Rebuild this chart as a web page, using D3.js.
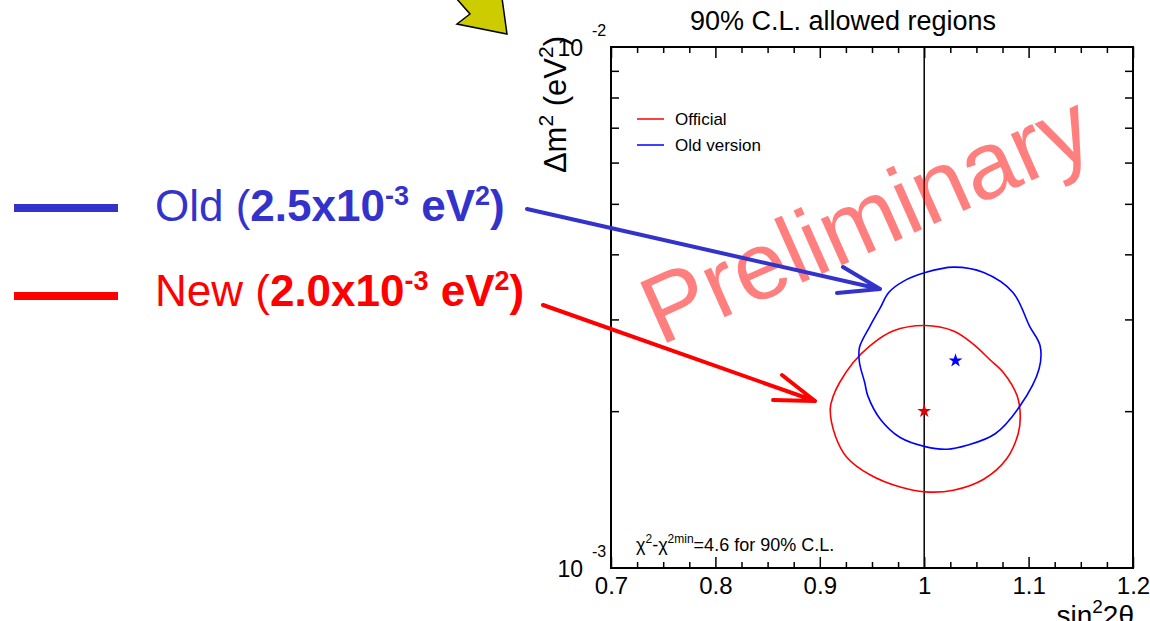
<!DOCTYPE html>
<html><head><meta charset="utf-8">
<script src="https://cdn.jsdelivr.net/npm/d3@7"></script>
<style>
body{margin:0;background:#fff}
svg{display:block;font-family:"Liberation Sans",Arial,Helvetica,sans-serif}
</style>
</head><body>
<svg id="c" width="1150" height="621"></svg>
<script>
// ---------------- data ----------------
const xTickValues = [0.7, 0.8, 0.9, 1.0, 1.1, 1.2];
const xMinorTickValues = [0.725,0.75,0.775,0.825,0.85,0.875,0.925,0.95,0.975,1.025,1.05,1.075,1.125,1.15,1.175];
const yDomain = [1e-3, 1e-2];
const yMinorTickValues = [2e-3,3e-3,4e-3,5e-3,6e-3,7e-3,8e-3,9e-3];
const yLabelExponents = ["-3", "-2"];
const referenceX = 1.0;

// 90% C.L. contours (sin^2 2theta, dm^2 in eV^2)
const officialContour = [
  [1.001,2.92e-3],[1.028,2.85e-3],[1.047,2.69e-3],[1.063,2.51e-3],[1.076,2.37e-3],
  [1.089,2.14e-3],[1.092,1.96e-3],[1.090,1.81e-3],[1.079,1.62e-3],[1.057,1.48e-3],
  [1.028,1.41e-3],[1.001,1.40e-3],[0.977,1.43e-3],[0.948,1.51e-3],[0.926,1.63e-3],
  [0.915,1.79e-3],[0.910,2.02e-3],[0.913,2.14e-3],[0.919,2.27e-3],[0.932,2.48e-3],
  [0.948,2.67e-3],[0.970,2.85e-3]
];
const oldContour = [
  [1.001,3.69e-3],[1.028,3.78e-3],[1.057,3.69e-3],[1.085,3.38e-3],[1.101,2.91e-3],
  [1.111,2.67e-3],[1.110,2.41e-3],[1.092,2.05e-3],[1.068,1.81e-3],[1.041,1.72e-3],
  [1.022,1.69e-3],[1.001,1.71e-3],[0.977,1.78e-3],[0.958,1.93e-3],[0.946,2.14e-3],
  [0.943,2.27e-3],[0.938,2.48e-3],[0.938,2.65e-3],[0.948,2.91e-3],[0.958,3.16e-3],
  [0.966,3.38e-3],[0.980,3.55e-3]
];
const bestFitPoints = [[1.0, 2.0e-3], [1.03, 2.5e-3]];
const legendLabels = ["Official", "Old version"];
const seriesColors = ["#ff0000", "#0000ff"];

// ---------------- layout ----------------
const svg = d3.select("#c");
const L = 611, R = 1133, T = 47, B = 568;
const x = d3.scaleLinear().domain([0.7, 1.2]).range([L, R]);
const y = d3.scaleLog().domain(yDomain).range([B, T]);

// title
svg.append("text").attr("x", 843).attr("y", 30).attr("text-anchor", "middle")
  .attr("font-size", 27).text("90% C.L. allowed regions");

// axes (inward ticks)
function clean(g){ g.select(".domain").remove(); g.selectAll("line").attr("stroke","#000").attr("stroke-width",1.5); }
svg.append("g").attr("transform", `translate(0,${B})`)
  .call(d3.axisBottom(x).tickValues(xTickValues).tickSizeInner(-11).tickSizeOuter(0).tickPadding(9)
    .tickFormat(d3.format("~g")))
  .call(clean)
  .call(g => g.selectAll("text").attr("font-size", 24).attr("font-family", "Liberation Sans, Arial, sans-serif").attr("fill","#000"));
svg.append("g").attr("transform", `translate(0,${B})`)
  .call(d3.axisBottom(x).tickValues(xMinorTickValues).tickSizeInner(-6).tickSizeOuter(0).tickFormat(""))
  .call(clean);
svg.append("g").attr("transform", `translate(0,${T})`)
  .call(d3.axisTop(x).tickValues(xTickValues).tickSizeInner(-11).tickSizeOuter(0).tickFormat(""))
  .call(clean);
svg.append("g").attr("transform", `translate(0,${T})`)
  .call(d3.axisTop(x).tickValues(xMinorTickValues).tickSizeInner(-6).tickSizeOuter(0).tickFormat(""))
  .call(clean);
svg.append("g").attr("transform", `translate(${L},0)`)
  .call(d3.axisLeft(y).tickValues(yMinorTickValues).tickSizeInner(-8).tickSizeOuter(0).tickFormat(""))
  .call(clean);
svg.append("g").attr("transform", `translate(${R},0)`)
  .call(d3.axisRight(y).tickValues(yMinorTickValues).tickSizeInner(-8).tickSizeOuter(0).tickFormat(""))
  .call(clean);

// y tick labels 10^-3, 10^-2
yDomain.forEach((v, i) => {
  svg.append("text").attr("x", 583).attr("y", y(v) + 9).attr("text-anchor", "end").attr("font-size", 23).text("10");
  svg.append("text").attr("x", 592).attr("y", y(v) - 11).attr("font-size", 16).text(yLabelExponents[i]);
});

// axis titles
const yt = svg.append("text").attr("transform", "translate(566,36) rotate(-90)")
  .attr("text-anchor", "end").attr("font-size", 31);
yt.append("tspan").text("\u0394m");
yt.append("tspan").attr("font-size", 21).attr("dy", -13).text("2");
yt.append("tspan").attr("dy", 13).text(" (eV");
yt.append("tspan").attr("font-size", 21).attr("dy", -13).text("2");
yt.append("tspan").attr("dy", 13).text(")");

const xt = svg.append("text").attr("x", 1134).attr("y", 625).attr("text-anchor", "end").attr("font-size", 28);
xt.append("tspan").text("sin");
xt.append("tspan").attr("font-size", 19).attr("dy", -12).text("2");
xt.append("tspan").attr("dy", 12).text("2\u03b8");

// reference vertical line
svg.append("line").attr("x1", x(referenceX)).attr("x2", x(referenceX)).attr("y1", y(yDomain[1])).attr("y2", y(yDomain[0]))
  .attr("stroke", "#000").attr("stroke-width", 1.5);

// contours
const line = d3.line().x(d => x(d[0])).y(d => y(d[1])).curve(d3.curveCatmullRomClosed.alpha(0.5));
[officialContour, oldContour].forEach((c, i) => {
  svg.append("path").attr("d", line(c)).attr("fill", "none").attr("stroke", seriesColors[i]).attr("stroke-width", 1.6);
});
// best fit stars
bestFitPoints.forEach((p, i) => {
  svg.append("path").attr("d", d3.symbol(d3.symbolStar, 60)())
    .attr("transform", `translate(${x(p[0])},${y(p[1])})`).attr("fill", i === 0 ? "#e00000" : "#0000ff");
});

// legend
legendLabels.forEach((lab, i) => {
  const ly = 119 + i * 26;
  svg.append("line").attr("x1", 637).attr("x2", 664).attr("y1", ly).attr("y2", ly)
    .attr("stroke", seriesColors[i]).attr("stroke-width", 1.5);
  svg.append("text").attr("x", 675).attr("y", ly + 6).attr("font-size", 17).text(lab);
});

// chi2 note
const ct = svg.append("text").attr("x", 636).attr("y", 551).attr("font-size", 18);
ct.append("tspan").text("\u03c7");
ct.append("tspan").attr("font-size", 12).attr("dy", -8).text("2");
ct.append("tspan").attr("dy", 8).text("-\u03c7");
ct.append("tspan").attr("font-size", 12).attr("dy", -8).text("2min");
ct.append("tspan").attr("dy", 8).text("=4.6 for 90% C.L.");

// bounding frame
svg.append("rect").attr("x", L).attr("y", T).attr("width", R - L).attr("height", B - T)
  .attr("fill", "none").attr("stroke", "#000").attr("stroke-width", 2);

// Preliminary watermark
svg.append("text").attr("transform", "translate(660,346) rotate(-24)")
  .attr("font-size", 96).attr("fill", "#ff0000").attr("fill-opacity", 0.5).text("Preliminary");

// slide annotations
function richLabel(yb, color, word, val) {
  const t = svg.append("text").attr("x", 155).attr("y", yb).attr("font-size", 44).attr("fill", color);
  t.append("tspan").text(word + " (");
  t.append("tspan").attr("font-weight", "bold").text(val);
  t.append("tspan").attr("font-weight", "bold").attr("font-size", 27).attr("dy", -16).text("-3");
  t.append("tspan").attr("font-weight", "bold").attr("dy", 16).text(" eV");
  t.append("tspan").attr("font-weight", "bold").attr("font-size", 27).attr("dy", -16).text("2");
  t.append("tspan").attr("font-weight", "bold").attr("dy", 16).text(")");
}
richLabel(221, "#3333cc", "Old", "2.5x10");
richLabel(306, "#ff0000", "New", "2.0x10");
svg.append("line").attr("x1", 14).attr("x2", 118).attr("y1", 208).attr("y2", 208).attr("stroke", "#3333cc").attr("stroke-width", 8);
svg.append("line").attr("x1", 14).attr("x2", 118).attr("y1", 296).attr("y2", 296).attr("stroke", "#ff0000").attr("stroke-width", 8);

function arrow(pts, color) {
  svg.append("path").attr("d", d3.line()(pts.slice(0, 2)) + d3.line()([pts[2], pts[1], pts[3]]))
    .attr("fill", "none").attr("stroke", color).attr("stroke-width", 4).attr("stroke-linecap", "round").attr("stroke-linejoin", "round");
}
arrow([[527,209],[880,289],[843,267],[837,293]], "#3333cc");
arrow([[543,305],[815,401],[782,375],[773,400]], "#ff0000");

// yellow block arrow (cropped at top)
svg.append("path").attr("d", d3.line()([[456,-2],[470,14],[457,24],[507,34],[502,-2]]) + "Z")
  .attr("fill", "#cccc00").attr("stroke", "#000").attr("stroke-width", 1.5).attr("stroke-linejoin", "miter");
</script>
</body></html>
